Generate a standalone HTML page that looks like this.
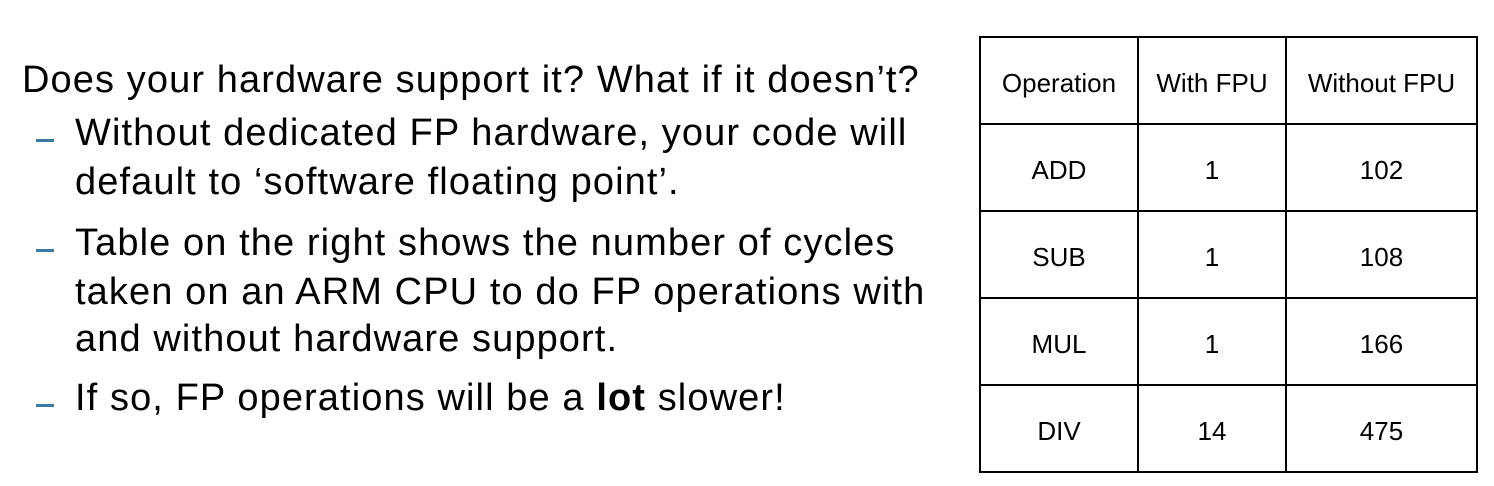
<!DOCTYPE html>
<html><head><meta charset="utf-8"><style>
body{margin:0;width:1494px;height:486px;background:#fff;position:relative;overflow:hidden;font-family:"Liberation Sans",sans-serif;color:#000}
.l{position:absolute;font-size:38px;letter-spacing:1.1px;white-space:nowrap;line-height:40px}
.d{position:absolute;left:36px;width:18px;height:3px;background:#3d7ba5}
table{position:absolute;left:979px;top:36px;border-collapse:collapse}
td{border:2px solid #000;width:146px;height:85px;text-align:center;font-size:26px;padding:0;line-height:30px}
td span{position:relative;top:2px}
</style></head><body>
<div class="l" style="left:22px;top:60px">Does your hardware support it? What if it doesn’t?</div>
<div class="d" style="top:139px"></div>
<div class="l" style="left:75px;top:113px">Without dedicated FP hardware, your code will</div>
<div class="l" style="left:75px;top:162px">default to ‘software floating point’.</div>
<div class="d" style="top:249px"></div>
<div class="l" style="left:75px;top:223px">Table on the right shows the number of cycles</div>
<div class="l" style="left:75px;top:272px">taken on an ARM CPU to do FP operations with</div>
<div class="l" style="left:75px;top:319px">and without hardware support.</div>
<div class="d" style="top:404px"></div>
<div class="l" style="left:75px;top:378px">If so, FP operations will be a <b>lot</b> slower!</div>
<table>
<tr><td style="width:156px"><span>Operation</span></td><td style="width:146px"><span>With FPU</span></td><td style="width:189px"><span>Without FPU</span></td></tr>
<tr><td><span>ADD</span></td><td><span>1</span></td><td><span>102</span></td></tr>
<tr><td><span>SUB</span></td><td><span>1</span></td><td><span>108</span></td></tr>
<tr><td><span>MUL</span></td><td><span>1</span></td><td><span>166</span></td></tr>
<tr><td><span>DIV</span></td><td><span>14</span></td><td><span>475</span></td></tr>
</table>
</body></html>
